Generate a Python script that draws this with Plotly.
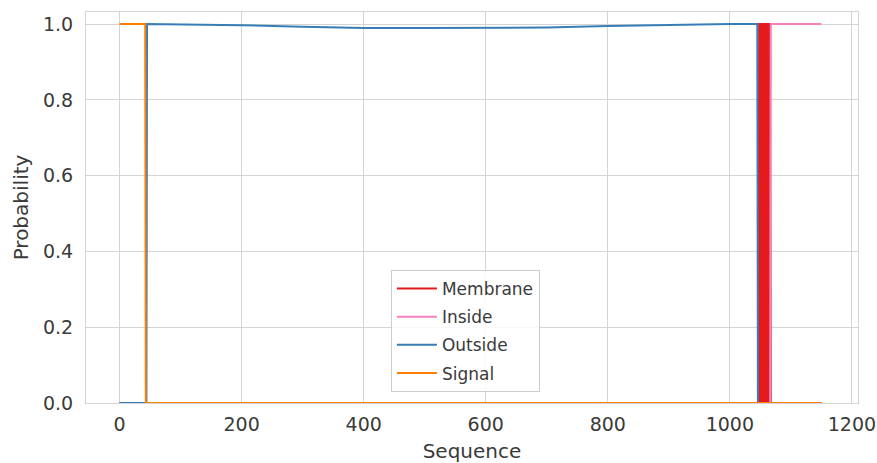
import plotly.graph_objects as go

# Series (residue position, probability)
membrane_x = [0, 1047, 1048, 1066, 1067, 1150]
membrane_y = [0, 0, 1, 1, 0, 0]

inside_x = [0, 1066, 1067, 1150]
inside_y = [0, 0, 1, 1]

outside_x = [0, 44, 45, 100, 200, 300, 400, 500, 600, 700, 800, 900, 1000, 1045, 1046, 1150]
outside_y = [0, 0, 1.0, 0.999, 0.997, 0.993, 0.99, 0.99, 0.99, 0.991, 0.995, 0.998, 1.0, 1.0, 0, 0]

signal_x = [0, 42, 43, 1150]
signal_y = [1, 1, 0, 0]

x_ticks = [0, 200, 400, 600, 800, 1000, 1200]
y_ticks = [0.0, 0.2, 0.4, 0.6, 0.8, 1.0]

series = [
    ("Membrane", membrane_x, membrane_y, "#e41a1c", True),
    ("Inside", inside_x, inside_y, "#f781bf", False),
    ("Outside", outside_x, outside_y, "#377eb8", False),
    ("Signal", signal_x, signal_y, "#ff7f00", False),
]

fig = go.Figure()
for name, xs, ys, col, filled in series:
    if filled:
        fig.add_trace(go.Scatter(
            x=xs, y=ys, mode="lines", line=dict(color=col, width=0),
            fill="tozeroy", fillcolor=col, showlegend=False, hoverinfo="skip",
            legendgroup=name,
        ))
    fig.add_trace(go.Scatter(
        x=xs, y=ys, name=name, mode="lines",
        line=dict(color=col, width=2),
        legendgroup=name,
    ))

grid = "#d4d4d4"
txt = "#3a3a3a"
fig.update_layout(
    width=877, height=463,
    margin=dict(l=86, r=19, t=12, b=60),
    paper_bgcolor="white", plot_bgcolor="white",
    font=dict(family="DejaVu Sans", color=txt, size=19),
    showlegend=True,
    legend=dict(
        x=0.395, y=0.028, xanchor="left", yanchor="bottom",
        bgcolor="rgba(255,255,255,0.85)", bordercolor="#cccccc", borderwidth=1,
        font=dict(size=17, color=txt),
        traceorder="grouped", tracegroupgap=3, itemwidth=40,
    ),
    xaxis=dict(
        range=[-55, 1210], tickvals=x_ticks, ticktext=[str(v) for v in x_ticks],
        showgrid=True, gridcolor=grid, gridwidth=1, zeroline=False,
        showline=True, linecolor=grid, linewidth=1, mirror=True,
        ticks="outside", ticklen=4, tickcolor="rgba(0,0,0,0)",
        ticklabeloverflow="allow",
        title=dict(text="Sequence", font=dict(size=20), standoff=12),
        automargin=False,
    ),
    yaxis=dict(
        range=[0, 1.032], tickvals=y_ticks, ticktext=[f"{v:.1f}" for v in y_ticks],
        showgrid=True, gridcolor=grid, gridwidth=1, zeroline=False,
        showline=True, linecolor=grid, linewidth=1, mirror=True,
        ticks="outside", ticklen=8, tickcolor="rgba(0,0,0,0)",
        ticklabeloverflow="allow",
        title=dict(text="Probability", font=dict(size=20), standoff=8),
        automargin=False,
    ),
)

fig.write_html("out.html", config={"displayModeBar": False},
               post_script="document.body.style.margin='0';")
